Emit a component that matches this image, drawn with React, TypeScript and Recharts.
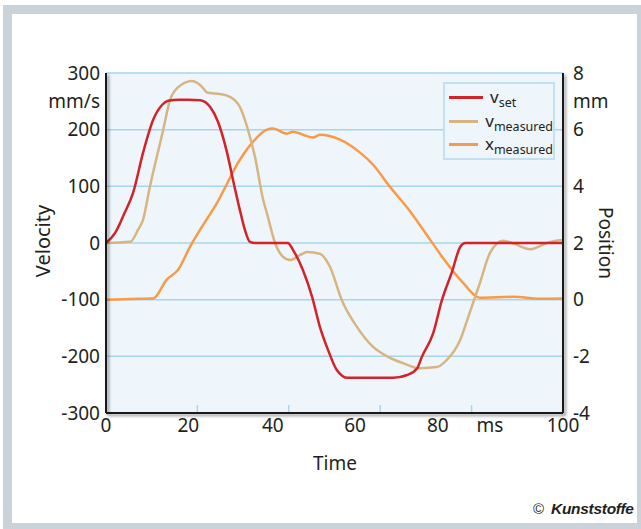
import React from "react";
import {
  LineChart,
  Line,
  XAxis,
  YAxis,
  CartesianGrid,
  Legend,
  ReferenceLine,
} from "recharts";

// v_set (mm/s) over time (ms)
const vSetTime = [0, 2, 4, 5.9, 8.1, 10.3, 12.3, 13.6, 16, 18, 20.6, 22.8, 24.5, 26.5, 27.8, 29.3, 30.4, 31.5, 32.6, 36, 39.8, 40.9, 43.1, 45.1, 46.8, 48.6, 50.5, 52.9, 58, 62.8, 65.9, 68.1, 69.1, 71.6, 73.5, 75.7, 77.5, 78.6, 90, 100];
const vSetVel = [0, 18, 52, 88, 159, 217, 244, 251, 253, 253, 252, 240, 214, 159, 111, 58, 23, 2, 0, 0, 0, -12, -48, -95, -148, -189, -224, -238, -238, -238, -233, -221, -201, -159, -101, -51, -7, 0, 0, 0];

// v_measured (mm/s)
const vMeasTime = [0, 5.3, 7.0, 8.1, 9.6, 12.5, 14.0, 15.8, 18.8, 20.6, 22.3, 24.9, 27.1, 29.3, 31.1, 32.6, 34.4, 35.2, 37.0, 38.7, 40.3, 42.5, 44.0, 46.8, 49.0, 51.6, 54.9, 58.4, 61.7, 65.0, 68.7, 72.4, 74.6, 77.5, 79.2, 81.8, 84.0, 86.9, 89.5, 92.8, 96.5, 99.3, 100];
const vMeasVel = [0, 2, 23, 41, 99, 199, 252, 275, 286, 279, 265, 263, 258, 240, 199, 152, 76, 53, 0, -24, -30, -21, -16, -19, -42, -101, -148, -183, -201, -212, -221, -219, -206, -171, -132, -71, -18, 4, -2, -11, 0, 5, 5];

// x_measured (mm)
const posTime = [0, 7.4, 10.3, 13.3, 15.8, 18.4, 20.6, 24.3, 29.3, 32.2, 35.2, 36.5, 39.6, 40.9, 43.1, 45.3, 46.8, 51.2, 55.6, 58.4, 62.1, 65.9, 70.9, 73.7, 78.1, 81.8, 89.1, 95, 100];
const posVal = [0, 0.03, 0.04, 0.71, 1.06, 1.87, 2.47, 3.42, 4.94, 5.58, 6.0, 6.04, 5.86, 5.93, 5.82, 5.72, 5.82, 5.65, 5.19, 4.77, 3.99, 3.25, 2.12, 1.48, 0.6, 0.07, 0.1, 0.03, 0.04];

// axis labels
const xLabelAt = [0, 18, 36.5, 54.5, 72.6, 84, 100];
const xLabelText = ["0", "20", "40", "60", "80", "ms", "100"];
const xTickMarks = [20, 40, 60, 80];
const velTicks = [-300, -200, -100, 0, 100, 200, 250, 300];
const posTicks = [-4, -2, 0, 2, 4, 6, 7, 8];
const gridValues = [-200, -100, 0, 100, 200, 300];

const RED = "#d42229";
const TAN = "#d6b582";
const ORANGE = "#f89a48";
const TEXT = "#231f20";
const FONT = "'Noto Sans', sans-serif";

const vSetData = vSetTime.map((t, i) => ({ t, v: vSetVel[i] }));
const vMeasData = vMeasTime.map((t, i) => ({ t, v: vMeasVel[i] }));
const posData = posTime.map((t, i) => ({ t, p: posVal[i] }));

const legendItems = [
  { main: "v", sub: "set", color: RED },
  { main: "v", sub: "measured", color: TAN },
  { main: "x", sub: "measured", color: ORANGE },
];

const renderLegend = () => (
  <div
    style={{
      width: 108,
      height: 72,
      background: "#eef6fc",
      border: "2px solid #c3e0f2",
      fontFamily: FONT,
      color: TEXT,
      paddingTop: 2,
      boxSizing: "content-box",
    }}>
    {legendItems.map((it) => (
      <div
        key={it.main + it.sub}
        style={{ display: "flex", alignItems: "center", height: 23.5 }}>
        <div
          style={{
            width: 34,
            height: 3,
            background: it.color,
            marginLeft: 4,
            marginRight: 7,
          }}
        />
        <span style={{ fontSize: 17, lineHeight: "17px" }}>
          {it.main}
          <span style={{ fontSize: 12.5, position: "relative", top: 4 }}>
            {it.sub}
          </span>
        </span>
      </div>
    ))}
  </div>
);

const App: React.FC = () => {
  return (
    <div
      style={{
        position: "absolute",
        left: 0,
        top: 0,
        width: 641,
        height: 529,
        background: "#fff",
        fontFamily: FONT,
      }}>
      <style>{`.axis-shadow .recharts-cartesian-axis-line { filter: drop-shadow(2px 2px 1.5px rgba(0,0,0,0.45)); }`}</style>
      <div
        style={{
          position: "absolute",
          left: 3,
          top: 5,
          right: 0,
          bottom: 0,
          background: "#cbd3da",
        }}
      />
      <div
        style={{
          position: "absolute",
          left: 12,
          top: 14,
          width: 625,
          height: 509,
          background: "#fff",
        }}
      />
      <div style={{ position: "absolute", left: 0, top: 0 }}>
        <LineChart
          width={641}
          height={529}
          margin={{ top: 73, right: 28, bottom: 86, left: 56 }}>
          <CartesianGrid
            yAxisId="left"
            horizontalValues={gridValues}
            vertical={false}
            fill="#eef6fc"
            stroke="#a6d6ef"
            strokeWidth={1.5}
          />
          <XAxis
            className="axis-shadow"
            type="number"
            dataKey="t"
            domain={[0, 100]}
            ticks={xLabelAt}
            interval={0}
            tickFormatter={(v: number) => xLabelText[xLabelAt.indexOf(v)]}
            height={30}
            tickLine={false}
            tickSize={2}
            tickMargin={4}
            axisLine={{ stroke: "#1a1a1a", strokeWidth: 2 }}
            tick={{ fill: TEXT, fontSize: 19, fontFamily: FONT }}
            allowDuplicatedCategory={false}
          />
          <YAxis
            className="axis-shadow"
            yAxisId="left"
            domain={[-300, 300]}
            ticks={velTicks}
            interval={0}
            tickFormatter={(v: number) => (v === 250 ? "mm/s" : String(v))}
            width={50}
            tickLine={false}
            tickSize={4}
            tickMargin={2}
            axisLine={{ stroke: "#1a1a1a", strokeWidth: 2 }}
            tick={{ fill: TEXT, fontSize: 19, fontFamily: FONT }}
          />
          <YAxis
            className="axis-shadow"
            yAxisId="right"
            orientation="right"
            domain={[-4, 8]}
            ticks={posTicks}
            interval={0}
            tickFormatter={(v: number) => (v === 7 ? "mm" : String(v))}
            width={50}
            tickLine={false}
            tickSize={6}
            tickMargin={4}
            axisLine={{ stroke: "#1a1a1a", strokeWidth: 2 }}
            tick={{ fill: TEXT, fontSize: 19, fontFamily: FONT, textAnchor: "start" }}
          />
          {xTickMarks.map((x) => (
            <ReferenceLine
              key={x}
              yAxisId="left"
              segment={[
                { x, y: -300 },
                { x, y: -286 },
              ]}
              stroke="#a6d6ef"
              strokeWidth={1.5}
            />
          ))}
          <Legend
            content={renderLegend}
            layout="vertical"
            align="center"
            verticalAlign="middle"
            wrapperStyle={{ position: "absolute", left: 443, top: 82, width: 112, height: 78 }}
          />
          <Line
            yAxisId="right"
            data={posData}
            dataKey="p"
            name="xmeasured"
            type="monotone"
            stroke={ORANGE}
            strokeWidth={2.5}
            dot={false}
            isAnimationActive={false}
          />
          <Line
            yAxisId="left"
            data={vMeasData}
            dataKey="v"
            name="vmeasured"
            type="monotone"
            stroke={TAN}
            strokeWidth={2.5}
            dot={false}
            isAnimationActive={false}
          />
          <Line
            yAxisId="left"
            data={vSetData}
            dataKey="v"
            name="vset"
            type="monotone"
            stroke={RED}
            strokeWidth={2.5}
            dot={false}
            isAnimationActive={false}
          />
        </LineChart>
      </div>
      <div
        style={{
          position: "absolute",
          left: 42,
          top: 241,
          transform: "translate(-50%, -50%) rotate(-90deg)",
          fontSize: 20,
          color: TEXT,
          whiteSpace: "nowrap",
        }}>
        Velocity
      </div>
      <div
        style={{
          position: "absolute",
          left: 606,
          top: 243,
          transform: "translate(-50%, -50%) rotate(90deg)",
          fontSize: 19,
          color: TEXT,
          whiteSpace: "nowrap",
        }}>
        Position
      </div>
      <div
        style={{
          position: "absolute",
          left: 335,
          top: 463,
          transform: "translate(-50%, -50%)",
          fontSize: 19,
          color: TEXT,
        }}>
        Time
      </div>
      <div
        style={{
          position: "absolute",
          left: 533,
          top: 500,
          fontSize: 15.5,
          color: TEXT,
          fontFamily: "'Liberation Sans', sans-serif",
          whiteSpace: "nowrap",
        }}>
        <span style={{ fontSize: 15, marginRight: 7 }}>©</span>
        <span style={{ fontWeight: "bold", fontStyle: "italic", letterSpacing: -0.3 }}>
          Kunststoffe
        </span>
      </div>
    </div>
  );
};

export default App;
